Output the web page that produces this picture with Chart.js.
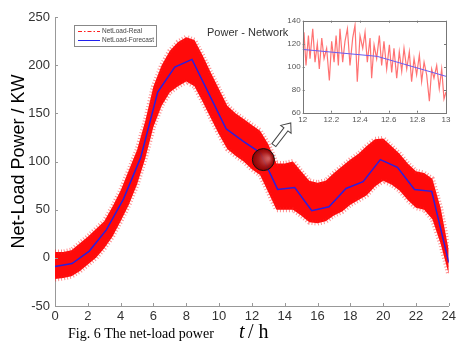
<!DOCTYPE html>
<html>
<head>
<meta charset="utf-8">
<script src="https://cdn.jsdelivr.net/npm/chart.js@4.4.0/dist/chart.umd.min.js"></script>
<style>
  html, body { margin: 0; padding: 0; background: #fff; }
  #wrap { position: relative; width: 459px; height: 341px; overflow: hidden; }
  #mainChart { position: absolute; left: 0; top: 0; }
  #insetChart { position: absolute; left: 270px; top: 10px; }
</style>
</head>
<body>
<div id="wrap">
  <canvas id="mainChart" width="459" height="341"></canvas>
  <canvas id="insetChart" width="185" height="120"></canvas>
</div>
<script>
// forecast (blue) - one point every 24/23 h
const forecastHours = [0, 1.04, 2.09, 3.13, 4.17, 5.22, 6.26, 7.30, 8.35, 9.39, 10.43, 11.48,
    12.52, 13.57, 14.61, 15.65, 16.70, 17.74, 18.78, 19.83, 20.87, 21.91, 22.96, 24];
const forecast = [-9, -6, 7, 29, 61, 104, 172, 198, 206, 170, 134, 121,
    109, 71, 73, 49, 53, 72, 79, 102, 94, 71, 69, -5];

// real net load (red) - envelope of the noisy band, read every half hour
const bandHours = [0, 0.5, 1, 1.5, 2, 2.5, 3, 3.5, 4, 4.5, 5, 5.5, 6, 6.5, 7, 7.5, 8, 8.5,
    9, 9.5, 10, 10.5, 11, 11.5, 12, 12.5, 13, 13.5, 14, 14.5, 15, 15.5, 16, 16.5, 17, 17.5,
    18, 18.5, 19, 19.5, 20, 20.5, 21, 21.5, 22, 22.5, 23, 23.5, 24];
const realUpper = [6, 6, 8, 15, 22, 30, 38, 53, 70, 91, 112, 142, 178, 200, 215, 224, 229, 226,
    210, 192, 175, 158, 150, 144, 138, 132, 118, 98, 98, 100, 90, 80, 78, 80, 88, 95,
    102, 108, 116, 123, 124, 116, 108, 98, 90, 88, 82, 52, 8];
const realLower = [-22, -21, -19, -14, -7, 0, 10, 22, 38, 55, 76, 103, 136, 158, 172, 178, 183, 178,
    162, 145, 128, 113, 106, 100, 92, 86, 68, 50, 50, 50, 44, 37, 36, 38, 44, 48,
    55, 60, 65, 74, 80, 76, 70, 60, 52, 50, 40, 15, -17];

// inset: real net load between 12 h and 13 h
const insetHours = [12.000, 12.009, 12.023, 12.040, 12.051, 12.070, 12.086, 12.102, 12.116, 12.133,
    12.149, 12.167, 12.186, 12.202, 12.219, 12.233, 12.249, 12.260, 12.279, 12.295,
    12.312, 12.330, 12.349, 12.365, 12.381, 12.400, 12.419, 12.435, 12.451, 12.470,
    12.481, 12.498, 12.516, 12.535, 12.551, 12.567, 12.586, 12.605, 12.621, 12.637,
    12.656, 12.674, 12.691, 12.707, 12.726, 12.744, 12.760, 12.777, 12.795, 12.814,
    12.830, 12.847, 12.865, 12.884, 12.900, 12.916, 12.935, 12.953, 12.970, 12.986, 13.000];
const insetReal = [116, 130, 101, 127, 107, 133, 104, 120, 98, 125,
    107, 116, 88, 122, 104, 127, 101, 133, 104, 122,
    133, 101, 125, 136, 87, 127, 116, 130, 104, 125,
    90, 119, 107, 127, 101, 122, 98, 119, 95, 116,
    90, 113, 96, 116, 98, 113, 87, 107, 93, 110,
    87, 104, 93, 70, 98, 90, 101, 81, 98, 72, 78];

const yTicks = [-50, 0, 50, 100, 150, 200, 250];
const xTicks = [0, 2, 4, 6, 8, 10, 12, 14, 16, 18, 20, 22, 24];
const insetYTicks = [60, 80, 100, 120, 140];
const insetXTicks = [12, 12.2, 12.4, 12.6, 12.8, 13];

const pts = (xs, ys) => xs.map((x, i) => ({ x, y: ys[i] }));
const SANS = '"Liberation Sans", Arial, sans-serif';
const SERIF = '"Liberation Serif", "Times New Roman", serif';

function drawInwardTicks(ctx, chart, len, box) {
    const { x, y } = chart.scales;
    const a = chart.chartArea;
    ctx.save();
    ctx.strokeStyle = box ? '#777' : '#999';
    ctx.lineWidth = 1;
    ctx.beginPath();
    x.ticks.forEach(t => {
        const px = Math.round(x.getPixelForValue(t.value)) + 0.5;
        ctx.moveTo(px, a.bottom); ctx.lineTo(px, a.bottom - len);
        if (box) { ctx.moveTo(px, a.top); ctx.lineTo(px, a.top + len); }
    });
    y.ticks.forEach(t => {
        const py = Math.round(y.getPixelForValue(t.value)) + 0.5;
        ctx.moveTo(a.left, py); ctx.lineTo(a.left + len, py);
        if (box) { ctx.moveTo(a.right, py); ctx.lineTo(a.right - len, py); }
    });
    ctx.stroke();
    if (box) {
        ctx.strokeRect(Math.round(a.left) + 0.5, Math.round(a.top) + 0.5,
            Math.round(a.right - a.left), Math.round(a.bottom - a.top));
    }
    ctx.restore();
}

const mainDecor = {
    id: 'mainDecor',
    afterDatasetsDraw(chart) {
        const ctx = chart.ctx;
        const { x, y } = chart.scales;
        // highlighted spot
        const cx = x.getPixelForValue(12.7), cy = y.getPixelForValue(102), r = 11;
        ctx.save();
        const g = ctx.createRadialGradient(cx + 5, cy - 1, 1, cx, cy, r);
        g.addColorStop(0, 'rgba(205,100,100,0.92)');
        g.addColorStop(0.6, 'rgba(160,25,25,0.92)');
        g.addColorStop(1, 'rgba(130,0,0,0.92)');
        ctx.fillStyle = g;
        ctx.beginPath();
        ctx.arc(cx, cy, r, 0, Math.PI * 2);
        ctx.fill();
        ctx.strokeStyle = '#111';
        ctx.lineWidth = 1;
        ctx.stroke();
        // arrow to the inset
        const tx = x.getPixelForValue(13.34), ty = y.getPixelForValue(117);
        const hx = x.getPixelForValue(14.37), hy = y.getPixelForValue(140);
        const len = Math.hypot(hx - tx, hy - ty), ang = Math.atan2(hy - ty, hx - tx);
        ctx.translate(tx, ty);
        ctx.rotate(ang);
        ctx.beginPath();
        ctx.moveTo(0, -2.5); ctx.lineTo(len - 8, -2.5); ctx.lineTo(len - 8, -6.5);
        ctx.lineTo(len, 0); ctx.lineTo(len - 8, 6.5); ctx.lineTo(len - 8, 2.5);
        ctx.lineTo(0, 2.5); ctx.closePath();
        ctx.fillStyle = '#fff';
        ctx.fill();
        ctx.strokeStyle = '#444';
        ctx.stroke();
        ctx.restore();
    },
    afterDraw(chart) {
        const ctx = chart.ctx;
        drawInwardTicks(ctx, chart, 3, false);
        ctx.save();
        // legend
        ctx.fillStyle = '#fff';
        ctx.strokeStyle = '#888';
        ctx.lineWidth = 1;
        ctx.fillRect(74.5, 25.5, 82, 21);
        ctx.strokeRect(74.5, 25.5, 82, 21);
        ctx.strokeStyle = '#ff2020';
        ctx.setLineDash([4, 2, 1.5, 2]);
        ctx.beginPath(); ctx.moveTo(78, 31.5); ctx.lineTo(100, 31.5); ctx.stroke();
        ctx.setLineDash([]);
        ctx.strokeStyle = '#2020ee';
        ctx.beginPath(); ctx.moveTo(78, 40.5); ctx.lineTo(100, 40.5); ctx.stroke();
        ctx.fillStyle = '#444';
        ctx.font = '6.5px ' + SANS;
        ctx.textBaseline = 'middle';
        ctx.fillText('NetLoad-Real', 102, 31.5);
        ctx.fillText('NetLoad-Forecast', 102, 40.5);
        // inset title
        ctx.fillStyle = '#333';
        ctx.font = '11px ' + SANS;
        ctx.fillText('Power - Network', 207, 33);
        // caption + axis title
        ctx.textBaseline = 'alphabetic';
        ctx.fillStyle = '#000';
        ctx.font = '14px ' + SERIF;
        ctx.fillText('Fig. 6 The net-load power', 68, 338);
        ctx.font = 'italic 20px ' + SERIF;
        ctx.fillText('t', 239, 338);
        ctx.font = '20px ' + SERIF;
        ctx.fillText('/ h', 248, 338);
        ctx.restore();
    }
};

new Chart(document.getElementById('mainChart'), {
    type: 'line',
    data: {
        datasets: [
            {
                label: 'NetLoad-Forecast',
                data: pts(forecastHours, forecast),
                borderColor: '#2a1fe0',
                borderWidth: 1.5,
                pointRadius: 0,
                fill: false
            },
            {
                label: 'NetLoad-Real low',
                data: pts(bandHours, realLower),
                borderColor: 'rgba(255,30,30,0.5)',
                borderWidth: 5,
                borderDash: [1, 2],
                pointRadius: 0,
                fill: false
            },
            {
                label: 'NetLoad-Real',
                data: pts(bandHours, realUpper),
                borderColor: 'rgba(255,30,30,0.5)',
                borderWidth: 5,
                borderDash: [1, 2],
                backgroundColor: '#ff0a0a',
                pointRadius: 0,
                fill: '-1'
            }
        ]
    },
    options: {
        responsive: false,
        animation: false,
        devicePixelRatio: 1,
        layout: { padding: { left: 0, right: 10, top: 17, bottom: 0 } },
        plugins: { legend: { display: false }, tooltip: { enabled: false } },
        scales: {
            x: {
                type: 'linear',
                min: 0,
                max: 24,
                afterBuildTicks: s => { s.ticks = xTicks.map(v => ({ value: v })); },
                afterFit: s => { s.height = 35; },
                grid: { display: false, drawTicks: false },
                border: { display: true, color: '#999', width: 1 },
                ticks: { padding: 3, color: '#333', font: { family: SANS, size: 13 }, maxRotation: 0 }
            },
            y: {
                min: -50,
                max: 250,
                afterBuildTicks: s => { s.ticks = yTicks.map(v => ({ value: v })); },
                afterFit: s => { s.width = 55; },
                grid: { display: false, drawTicks: false },
                border: { display: true, color: '#999', width: 1 },
                ticks: { padding: 5, color: '#333', font: { family: SANS, size: 13 } },
                title: {
                    display: true,
                    text: 'Net-Load Power / KW',
                    color: '#000',
                    font: { family: SANS, size: 18 },
                    padding: { top: 8, bottom: 0 }
                }
            }
        }
    },
    plugins: [mainDecor]
});

const insetDecor = {
    id: 'insetDecor',
    afterDraw(chart) {
        drawInwardTicks(chart.ctx, chart, 2, true);
    }
};

new Chart(document.getElementById('insetChart'), {
    type: 'line',
    data: {
        datasets: [
            {
                label: 'NetLoad-Forecast',
                data: pts(forecastHours, forecast),
                borderColor: '#6a5cf0',
                borderWidth: 1,
                pointRadius: 0,
                fill: false
            },
            {
                label: 'NetLoad-Real',
                data: pts(insetHours, insetReal),
                borderColor: 'rgba(255,20,20,0.6)',
                borderWidth: 1.2,
                pointRadius: 0,
                fill: false
            }
        ]
    },
    options: {
        responsive: false,
        animation: false,
        devicePixelRatio: 1,
        layout: { padding: { left: 0, right: 9, top: 10.7, bottom: 0 } },
        plugins: { legend: { display: false }, tooltip: { enabled: false } },
        scales: {
            x: {
                type: 'linear',
                min: 12,
                max: 13,
                afterBuildTicks: s => { s.ticks = insetXTicks.map(v => ({ value: v })); },
                afterFit: s => { s.height = 17.3; },
                grid: { display: false, drawTicks: false },
                border: { display: false },
                ticks: {
                    padding: 2, color: '#555', maxRotation: 0,
                    font: { family: SANS, size: 8 },
                    callback: v => String(+v.toFixed(1))
                }
            },
            y: {
                min: 60,
                max: 140,
                afterBuildTicks: s => { s.ticks = insetYTicks.map(v => ({ value: v })); },
                afterFit: s => { s.width = 32.7; },
                grid: { display: false, drawTicks: false },
                border: { display: false },
                ticks: { padding: 2, color: '#555', font: { family: SANS, size: 8 } }
            }
        }
    },
    plugins: [insetDecor]
});
</script>
</body>
</html>
